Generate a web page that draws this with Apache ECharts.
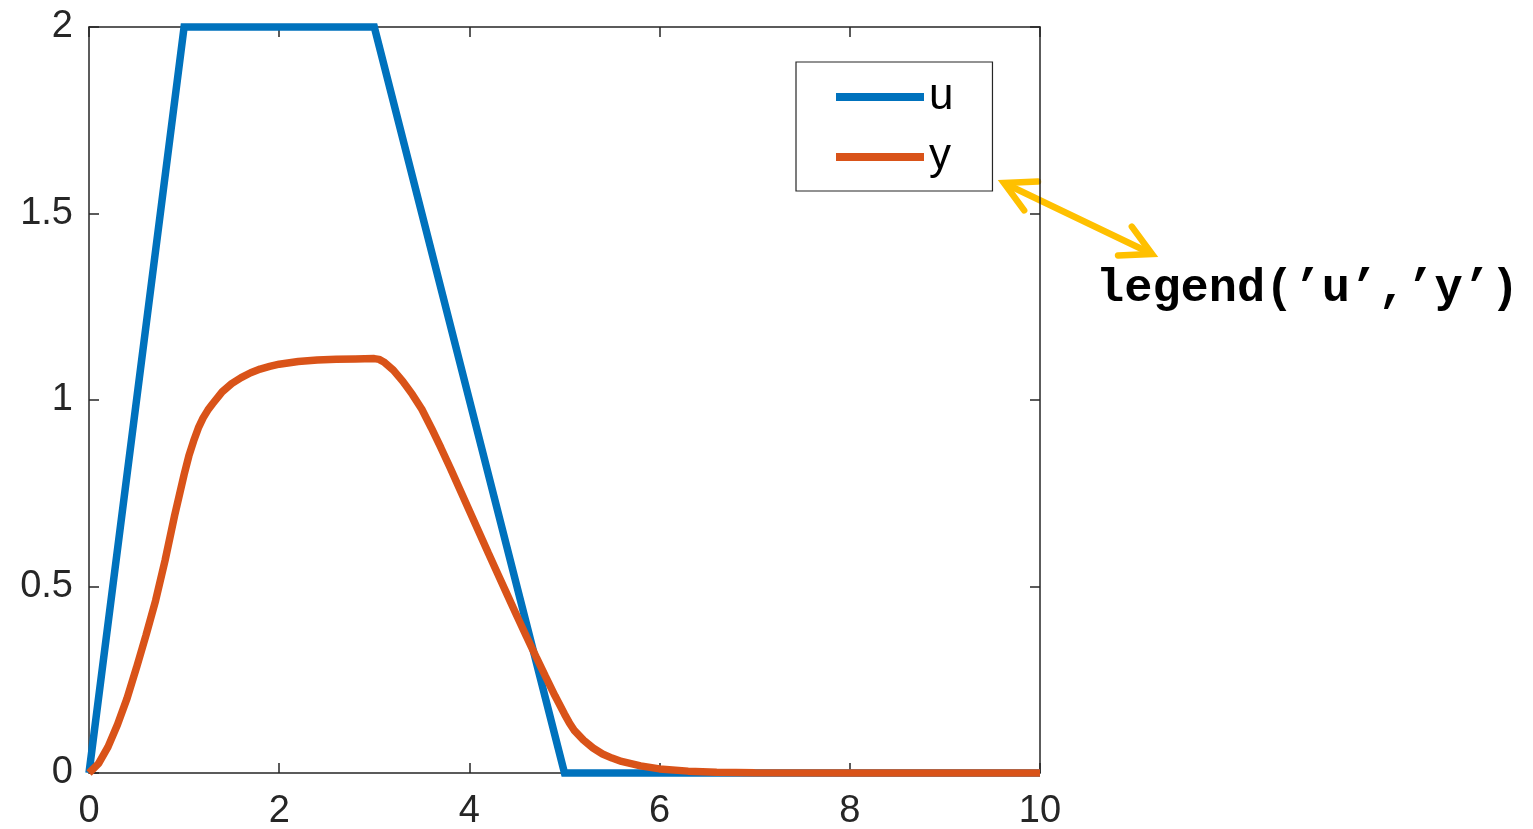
<!DOCTYPE html>
<html><head><meta charset="utf-8">
<script src="https://cdn.jsdelivr.net/npm/echarts@6/dist/echarts.min.js"></script>
<style>html,body{margin:0;padding:0;background:#fff}#c{width:1533px;height:829px}</style>
</head><body><div id="c"></div>
<script>
// ---- data ----
const seriesNames = ['u', 'y'];
const uT = [0, 1, 3, 5, 10];
const uV = [0, 2, 2, 0, 0];
const yT = [0, 0.1, 0.2, 0.3, 0.4, 0.5, 0.6, 0.7, 0.8, 0.9, 1.0, 1.05, 1.1, 1.15, 1.2, 1.25, 1.3, 1.4, 1.5, 1.6, 1.7, 1.8, 1.9, 2.0, 2.2, 2.4, 2.6, 2.8, 3.0,
            3.05, 3.1, 3.2, 3.3, 3.4, 3.5, 3.6, 3.7, 3.8, 3.9, 4.0, 4.1, 4.2, 4.3, 4.4, 4.5, 4.6, 4.7, 4.8, 4.9, 5.0,
            5.05, 5.1, 5.2, 5.3, 5.4, 5.5, 5.6, 5.8, 6.0, 6.3, 6.6, 7.0, 8.0, 10.0];
const yV = [0, 0.025, 0.07, 0.13, 0.2, 0.283, 0.37, 0.462, 0.57, 0.69, 0.80, 0.85, 0.89, 0.925, 0.952, 0.973, 0.99, 1.022, 1.044, 1.06, 1.073, 1.083, 1.09, 1.096, 1.103, 1.107, 1.109, 1.110, 1.111,
            1.109, 1.102, 1.08, 1.05, 1.015, 0.975, 0.925, 0.872, 0.817, 0.76, 0.703, 0.646, 0.589, 0.533, 0.477, 0.421, 0.366, 0.312, 0.259, 0.207, 0.158,
            0.135, 0.115, 0.088, 0.067, 0.051, 0.04, 0.031, 0.019, 0.011, 0.005, 0.002, 0.001, 0, 0];
const xRange = [0, 10], xStep = 2;
const yRange = [0, 2], yStep = 0.5;
const annotationText = 'legend(\u2019u\u2019,\u2019y\u2019)';

// ---- chart ----
const chart = echarts.init(document.getElementById('c'), null, {renderer: 'canvas'});
const axisColor = '#262626';
const labelFont = {fontFamily: 'Liberation Sans, Arial, sans-serif', fontSize: 38, color: axisColor};
function mkAxis(kind, pos, showLabel) {
  const r = kind === 'x' ? xRange : yRange;
  const s = kind === 'x' ? xStep : yStep;
  return {
    type: 'value', position: pos, min: r[0], max: r[1], interval: s,
    axisLine: {show: true, onZero: false, lineStyle: {color: axisColor, width: 1.5}},
    axisTick: {show: true, inside: true, length: 10, lineStyle: {color: axisColor, width: 1.5}},
    axisLabel: Object.assign({show: showLabel, margin: kind === 'x' ? 20 : 16}, labelFont),
    splitLine: {show: false}
  };
}
const blue = '#0072BD', orange = '#D95319', gold = '#FFC000';

// arrow decoration
const tipA = [1004, 183], tipB = [1152, 254];
const ang = Math.atan2(tipB[1] - tipA[1], tipB[0] - tipA[0]);
const half = 28 * Math.PI / 180, armLen = 34;
function head(tip, dir) {
  return [
    [tip[0] + armLen * Math.cos(dir - half), tip[1] + armLen * Math.sin(dir - half)],
    tip,
    [tip[0] + armLen * Math.cos(dir + half), tip[1] + armLen * Math.sin(dir + half)]
  ];
}
const arrowStyle = {stroke: gold, lineWidth: 6.5, lineCap: 'round', lineJoin: 'miter', fill: null};

chart.setOption({
  animation: false,
  backgroundColor: '#fff',
  grid: {left: 89, right: 493, top: 27, bottom: 56, containLabel: false, outerBoundsMode: 'none'},
  xAxis: [mkAxis('x', 'bottom', true), mkAxis('x', 'top', false)],
  yAxis: [mkAxis('y', 'left', true), mkAxis('y', 'right', false)],
  legend: {
    orient: 'vertical', left: 796, top: 62, padding: [13, 39, 12, 40], itemGap: 16,
    itemWidth: 88, itemHeight: 8, icon: 'rect', selectedMode: false,
    backgroundColor: '#fff', borderColor: axisColor, borderWidth: 1.2,
    textStyle: {fontFamily: 'Liberation Sans, Arial, sans-serif', fontSize: 44, color: '#000'},
    data: seriesNames
  },
  series: [
    {name: seriesNames[0], type: 'line', data: uT.map((t, i) => [t, uV[i]]), showSymbol: false, symbol: 'none',
     clip: false, lineStyle: {color: blue, width: 7.5, join: 'miter'}, itemStyle: {color: blue}},
    {name: seriesNames[1], type: 'line', data: yT.map((t, i) => [t, yV[i]]), showSymbol: false, symbol: 'none',
     clip: false, lineStyle: {color: orange, width: 7.5}, itemStyle: {color: orange}}
  ],
  graphic: [
    {type: 'line', shape: {x1: tipA[0] + 3, y1: tipA[1] + 1.5, x2: tipB[0] - 3, y2: tipB[1] - 1.5}, style: arrowStyle},
    {type: 'polyline', shape: {points: head(tipA, ang)}, style: arrowStyle},
    {type: 'polyline', shape: {points: head(tipB, ang + Math.PI)}, style: arrowStyle},
    {type: 'text', x: 1096, y: 289, style: {text: annotationText, font: 'bold 47px "Liberation Mono", "Courier New", monospace',
      fill: '#000', verticalAlign: 'middle', align: 'left'}}
  ]
});
</script></body></html>
